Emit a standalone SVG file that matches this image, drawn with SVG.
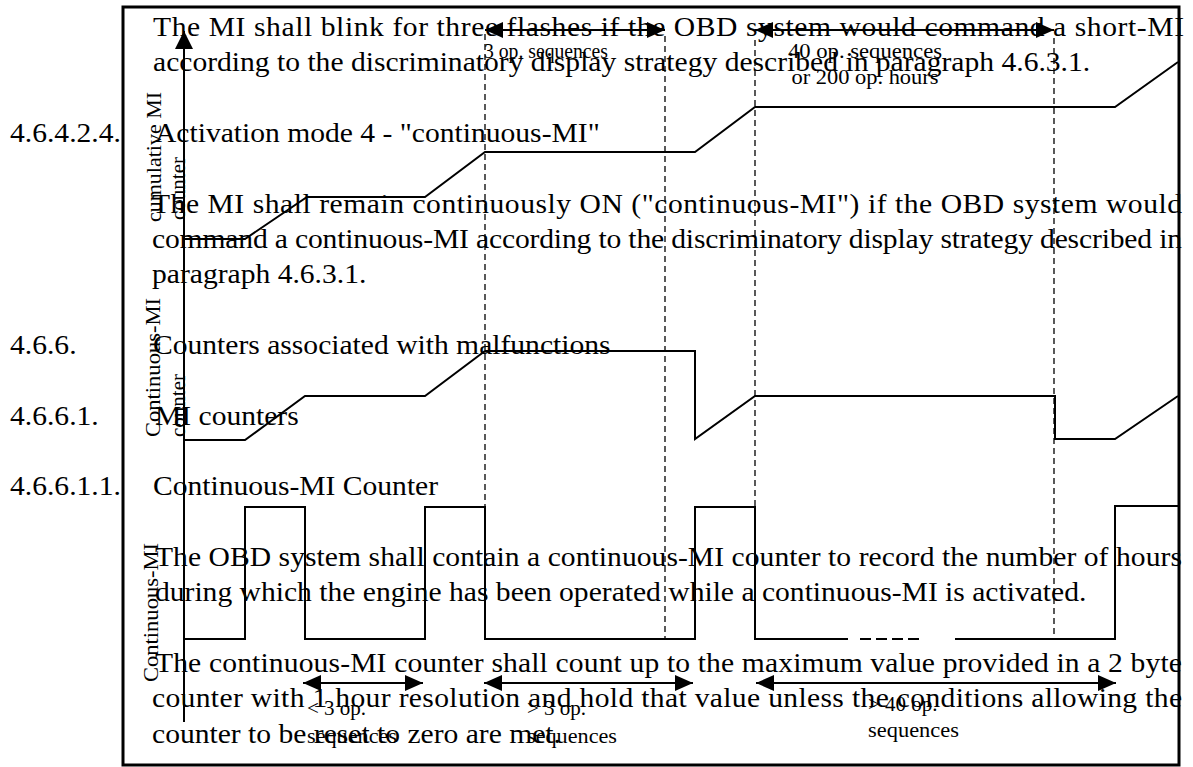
<svg xmlns="http://www.w3.org/2000/svg" width="1193" height="767" viewBox="0 0 1193 767">
<style>
.t{font-family:"Liberation Serif","Times New Roman",serif;font-size:27px;fill:#000}
.l{font-family:"Liberation Serif","Times New Roman",serif;font-size:21px;fill:#000}
.tr{fill:none;stroke:#000;stroke-width:2}
.d{fill:none;stroke:#000;stroke-width:1.3;stroke-dasharray:6,4}
.ar{stroke:#000;stroke-width:2;marker-start:url(#ah);marker-end:url(#ah)}
</style>
<defs>
<marker id="ah" viewBox="0 0 18 16" refX="18" refY="8" markerWidth="18" markerHeight="16" orient="auto-start-reverse" markerUnits="userSpaceOnUse"><path d="M0,0 L18,8 L0,16 z" fill="#000"/></marker>
<marker id="ax" viewBox="0 0 18 18" refX="18" refY="9" markerWidth="18" markerHeight="18" orient="auto" markerUnits="userSpaceOnUse"><path d="M0,0 L18,9 L0,18 z" fill="#000"/></marker>
</defs>
<rect x="0" y="0" width="1193" height="767" fill="#fff"/>
<g id="frame"><rect x="123" y="7" width="1056" height="758" fill="none" stroke="#000" stroke-width="3"/></g>
<g id="text" transform="scale(1.096,1)">
<text class="t" x="139.6" y="36" textLength="940.7" lengthAdjust="spacing">The MI shall blink for three flashes if the OBD system would command a short-MI</text>
<text class="t" x="139.6" y="71">according to the discriminatory display strategy described in paragraph 4.6.3.1.</text>
<text class="t" x="9.12" y="142">4.6.4.2.4.</text>
<text class="t" x="141.4" y="142">Activation mode 4 - "continuous-MI"</text>
<text class="t" x="138.7" y="213" textLength="939.8" lengthAdjust="spacing">The MI shall remain continuously ON ("continuous-MI") if the OBD system would</text>
<text class="t" x="138.7" y="248" textLength="939.8" lengthAdjust="spacing">command a continuous-MI according to the discriminatory display strategy described in</text>
<text class="t" x="138.7" y="283.5">paragraph 4.6.3.1.</text>
<text class="t" x="9.12" y="354">4.6.6.</text>
<text class="t" x="139.6" y="354">Counters associated with malfunctions</text>
<text class="t" x="9.12" y="425">4.6.6.1.</text>
<text class="t" x="141.4" y="425">MI counters</text>
<text class="t" x="9.12" y="495">4.6.6.1.1.</text>
<text class="t" x="139.6" y="495">Continuous-MI Counter</text>
<text class="t" x="141.4" y="566" textLength="937" lengthAdjust="spacing">The OBD system shall contain a continuous-MI counter to record the number of hours</text>
<text class="t" x="141.4" y="601.5">during which the engine has been operated while a continuous-MI is activated.</text>
<text class="t" x="141.4" y="672" textLength="937" lengthAdjust="spacing">The continuous-MI counter shall count up to the maximum value provided in a 2 byte</text>
<text class="t" x="138.7" y="707.5" textLength="939.8" lengthAdjust="spacing">counter with 1 hour resolution and hold that value unless the conditions allowing the</text>
<text class="t" x="138.7" y="743">counter to be reset to zero are met.</text>
</g>
<g id="axis-labels">
<text class="l" transform="translate(161,222) rotate(-90)" textLength="130" lengthAdjust="spacingAndGlyphs">cumulative MI</text>
<text class="l" transform="translate(185,220) rotate(-90)">counter</text>
<text class="l" transform="translate(160,437) rotate(-90)" textLength="139" lengthAdjust="spacingAndGlyphs">Continuous-MI</text>
<text class="l" transform="translate(185,437) rotate(-90)">counter</text>
<text class="l" transform="translate(158,682) rotate(-90)" textLength="139" lengthAdjust="spacingAndGlyphs">Continuous-MI</text>
</g>
<g id="axis"><line x1="184" y1="722" x2="184" y2="31" stroke="#000" stroke-width="2" marker-end="url(#ax)"/></g>
<g id="dashed">
<line class="d" x1="485" y1="34" x2="485" y2="507"/>
<line class="d" x1="665" y1="36" x2="665" y2="640"/>
<line class="d" x1="755" y1="40" x2="755" y2="507"/>
<line class="d" x1="1054" y1="38" x2="1054" y2="640"/>
</g>
<g id="traces">
<polyline class="tr" points="184,239 245,239 307,197 425,197 485,152 695,152 755,107 1115,107 1178,62"/>
<polyline class="tr" points="184,440 245,440 305,396 425,396 485,351 695,351 695,439 755,396 1055,396 1055,439 1115,439 1178,396"/>
<polyline class="tr" points="184,639 245,639 245,507 305,507 305,639 425,639 425,507 485,507 485,639 695,639 695,507 755,507 755,639 848,639"/>
<line x1="860" y1="639" x2="920" y2="639" stroke="#000" stroke-width="2" stroke-dasharray="11,5"/>
<polyline class="tr" points="955,639 1115,639 1115,506 1178,506"/>
</g>
<g id="connectors">
<line class="ar" x1="485" y1="30" x2="665" y2="30"/>
<line class="ar" x1="755" y1="30" x2="1054" y2="30"/>
<line class="ar" x1="303" y1="683" x2="423" y2="683"/>
<line class="ar" x1="484" y1="683" x2="693" y2="683"/>
<line class="ar" x1="756" y1="683" x2="1116" y2="683"/>
</g>
<g id="labels">
<text class="l" x="484" y="58" textLength="124" lengthAdjust="spacingAndGlyphs">3 op. sequences</text>
<text class="l" x="865" y="58" text-anchor="middle" textLength="154" lengthAdjust="spacingAndGlyphs">40 op. sequences</text>
<text class="l" x="865" y="84" text-anchor="middle" textLength="147" lengthAdjust="spacingAndGlyphs">or 200 op. hours</text>
<text class="l" x="307" y="715">&lt; 3 op.</text>
<text class="l" x="307" y="743" textLength="90" lengthAdjust="spacingAndGlyphs">sequences</text>
<text class="l" x="527" y="715">&gt; 3 op.</text>
<text class="l" x="527" y="743" textLength="90" lengthAdjust="spacingAndGlyphs">sequences</text>
<text class="l" x="868" y="711">&gt; 40 op.</text>
<text class="l" x="868" y="737" textLength="91" lengthAdjust="spacingAndGlyphs">sequences</text>
</g>
</svg>
